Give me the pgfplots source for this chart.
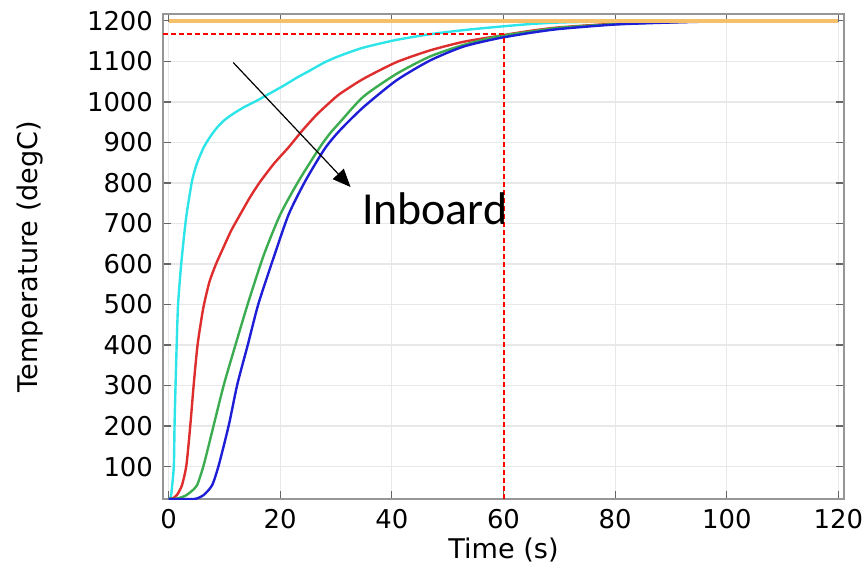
\documentclass[border=0pt]{standalone}
\usepackage{fontspec}
\setmainfont{DejaVu Sans}
\newfontfamily\carlito{Carlito}
\usepackage{pgfplots}
\pgfplotsset{compat=1.18}
\usetikzlibrary{arrows.meta}
\definecolor{ccyan}{RGB}{45,228,232}
\definecolor{cred}{RGB}{222,45,45}
\definecolor{cgreen}{RGB}{60,172,80}
\definecolor{cblue}{RGB}{30,30,215}
\definecolor{corange}{RGB}{245,192,105}
\definecolor{cgrid}{RGB}{232,232,232}
\definecolor{cframe}{RGB}{150,150,150}
\definecolor{cdash}{RGB}{255,0,0}
\begin{document}
\begin{tikzpicture}
\begin{axis}[
  scale only axis, width=340.5bp, height=242.5bp,
  xmin=-1, xmax=121, ymin=20, ymax=1217,
  xtick={0,20,...,120}, ytick={100,200,...,1200},
  tick align=inside, xtick pos=both, ytick pos=both,
  major tick length=4bp,
  grid=major, major grid style={cgrid, line width=0.6bp},
  axis line style={cframe, line width=0.8bp},
  tick style={black!60, line width=0.6bp},
  font=\fontsize{13}{15}\selectfont,
  /pgf/number format/assume math mode=true,
  /pgf/number format/set thousands separator={},
  xticklabel style={yshift=-1.5bp},
  yticklabel style={xshift=-1.5bp},
  xlabel={Time (s)}, ylabel={Temperature (degC)},
  label style={font=\fontsize{13.6}{16}\selectfont},
  xlabel style={at={(axis description cs:0.5,-0.105)}, anchor=center},
  ylabel style={at={(axis description cs:-0.195,0.5)}, anchor=center},
  every axis plot/.append style={line width=1.2bp},
]
% cyan
\addplot[ccyan, smooth, tension=0.4] coordinates {(0,20)(0.4,25)(0.65,54)(0.95,104)(1.07,203)(1.25,302)(1.45,400)(1.7,500)(2.2,590)(2.7,660)(3.2,720)(4.2,805)(5.1,849)(6.3,888)(7.5,915)(8.7,937)(10,955)(11.6,971)(13.5,987)(15.8,1003)(18,1020)(20.6,1040)(23,1060)(25.4,1078)(28,1098)(30.7,1114)(34.9,1134)(40.8,1153)(46.8,1167)(52.7,1177)(58.7,1185)(64.6,1192)(70,1196)(80,1199)(90,1200)(120,1200)};
% red
\addplot[cred, smooth, tension=0.4] coordinates {(0,20)(0.8,22)(1.5,30)(2.4,54)(3.2,104)(3.9,203)(4.5,302)(5.2,401)(6.2,490)(7.3,555)(8.5,600)(9.8,640)(11.2,682)(12.9,724)(14.6,765)(16.4,803)(18.9,848)(21.5,888)(24,930)(26.5,968)(28.9,999)(30.7,1020)(34.9,1057)(40.8,1098)(46.8,1127)(52.7,1148)(58.7,1162)(64.6,1175)(70,1184)(80,1193)(90,1197)(100,1199)(120,1200)};
% green
\addplot[cgreen, smooth, tension=0.4] coordinates {(0,20)(1.5,21)(3,28)(4,38)(5.1,54)(6.3,104)(8.1,203)(9.9,302)(12,401)(14.2,502)(17,620)(20,722)(23.3,805)(27.1,888)(28.9,922)(30.7,950)(34.9,1013)(40.8,1069)(46.8,1112)(52.7,1140)(58.7,1161)(64.6,1173)(70,1183)(80,1192)(90,1197)(100,1199)(120,1200)};
% blue
\addplot[cblue, smooth, tension=0.4] coordinates {(0,20)(4,20)(5,21)(6.3,30)(7.8,54)(9,104)(10.8,203)(12.3,302)(14.2,401)(16.1,502)(18.8,615)(21.5,722)(24.5,805)(28,885)(30.7,930)(34.9,987)(40.8,1053)(46.8,1102)(52.7,1136)(58.7,1156)(64.6,1170)(70,1180)(80,1191)(90,1196)(100,1199)(120,1200)};
% orange
\addplot[corange, line width=2bp] coordinates {(0,1200)(120,1200)};
% red dashed guides
\addplot[cdash, line width=0.8bp, dash pattern=on 2.5bp off 1.5bp] coordinates {(-1,1168)(60,1168)};
\addplot[cdash, line width=1.1bp, dash pattern=on 2.5bp off 1.5bp] coordinates {(60.05,20)(60.05,1168)};
\draw[-{Triangle[length=9bp,width=7.5bp]}, line width=0.6bp] (axis cs:11.6,1097) -- (axis cs:32.6,790);
\node[anchor=base west, inner sep=0pt, font=\carlito\fontsize{23}{27}\selectfont] at (axis cs:34.6,697) {Inboard};
\end{axis}
\pgfresetboundingbox
\path ([shift={(-81.5bp,-33bp)}]current axis.south west) rectangle ([shift={(11.5bp,7bp)}]current axis.north east);
\end{tikzpicture}
\end{document}
